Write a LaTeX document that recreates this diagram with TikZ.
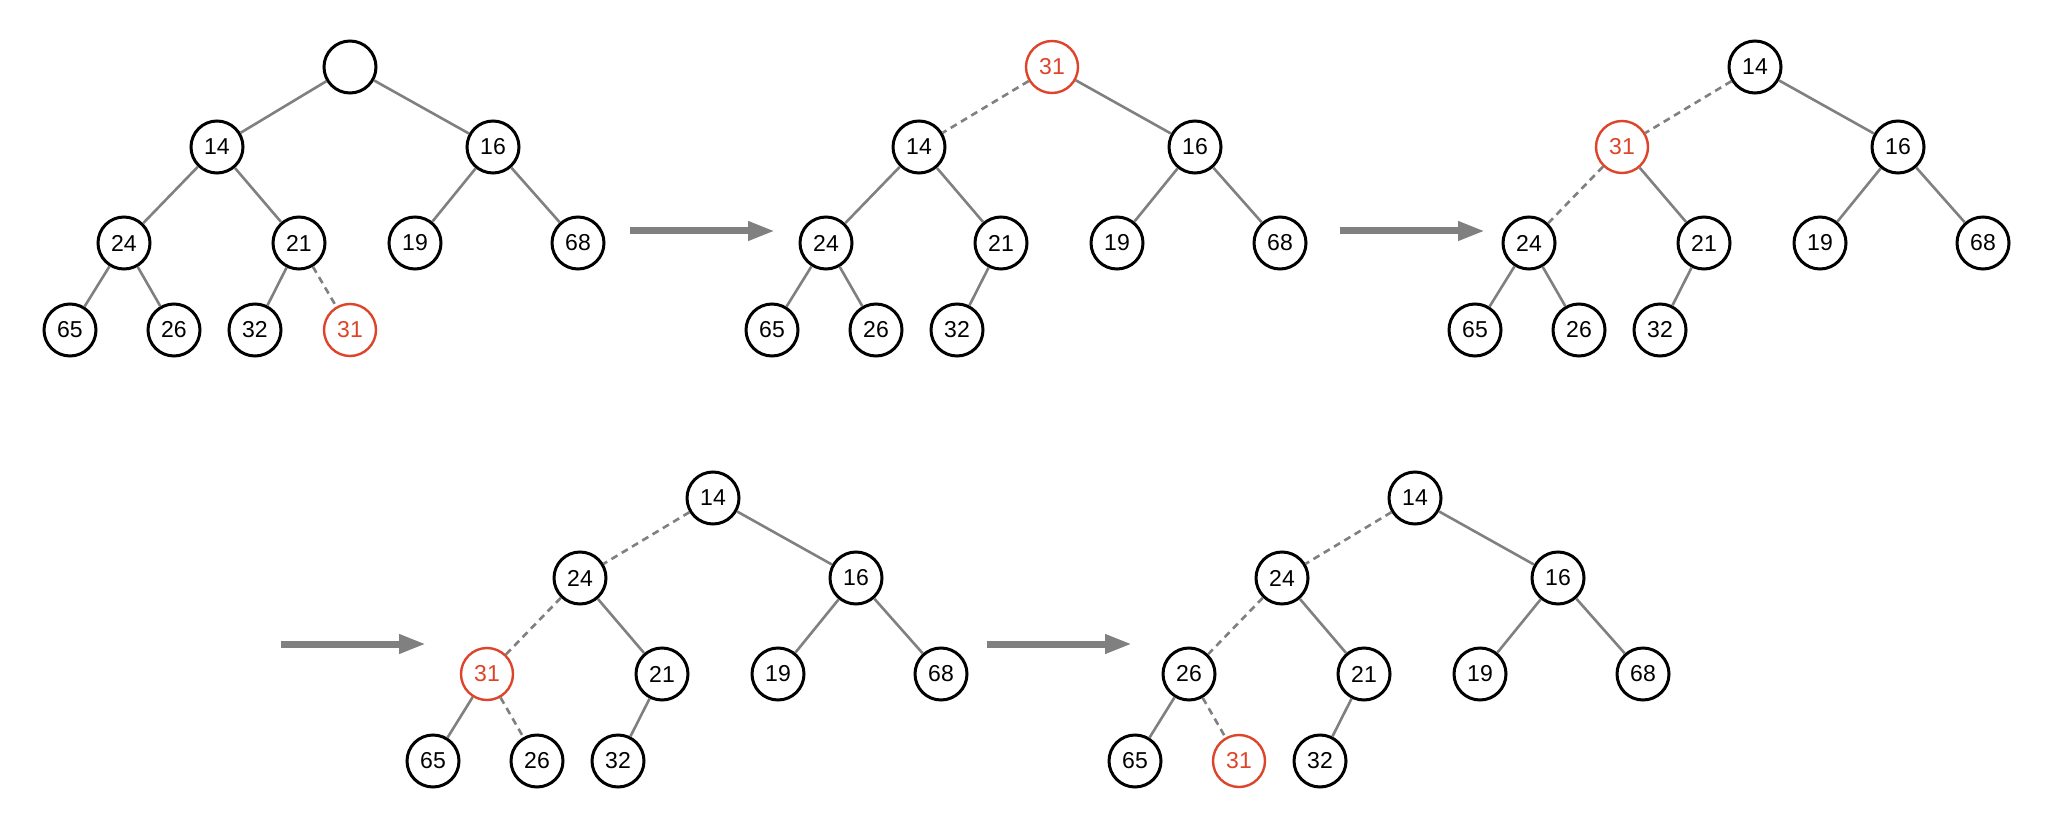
\documentclass[tikz,border=0pt]{standalone}
\usepackage{fontspec}
\setmainfont{Liberation Sans}
\usetikzlibrary{arrows.meta}
\definecolor{swapred}{HTML}{DE4429}
\definecolor{linkgray}{HTML}{808080}
\tikzset{
	heapnode/.style={circle, draw=black, line width=1.5pt, minimum size=26pt, inner sep=0pt, fill=white, font=\fontsize{11.5}{13}\selectfont},
	fixed/.style={},
	moved/.style={draw=swapred, text=swapred, line width=1.2pt},
	link/.style={draw=linkgray, line width=1.3pt},
	moveline/.style={link, dash pattern=on 3.5pt off 2.5pt},
	stepto/.style={draw=linkgray, line width=3.5pt, -{Triangle[length=13.5pt,width=9pt]}}
}
\begin{document}
\begin{tikzpicture}[x=0.5pt, y=-0.5pt]
	\useasboundingbox (0,0) rectangle (2060,834);
	% step arrows
	\foreach \i/\x/\y in {1/630/231, 2/1340/231, 3/281/644, 4/987/644}{
		\coordinate (from\i) at (\x,\y);
		\coordinate (to\i) at (\x+145,\y);
		\draw[stepto] (from\i) -- (to\i);
	}
	
	% heap 1: hole at the root, 31 added at the end
	\begin{scope}
		\foreach \n/\x/\y/\t/\s in {0/350/67//fixed, 1/217/147/14/fixed, 2/493/147/16/fixed, 3/124/243/24/fixed, 4/299/243/21/fixed, 5/415/243/19/fixed, 6/578/243/68/fixed, 7/70/330/65/fixed, 8/174/330/26/fixed, 9/255/330/32/fixed, 10/350/330/31/moved}
		\node[heapnode, \s] (a\n) at (\x,\y) {\t};
		\foreach \p/\q/\s in {0/1/link, 0/2/link, 1/3/link, 1/4/link, 2/5/link, 2/6/link, 3/7/link, 3/8/link, 4/9/link, 4/10/moveline}
		\draw[\s] (a\p) -- (a\q);
	\end{scope}
	
	% heap 2: 31 moved to the root
	\begin{scope}[shift={(702,0)}]
		\foreach \n/\x/\y/\t/\s in {0/350/67/31/moved, 1/217/147/14/fixed, 2/493/147/16/fixed, 3/124/243/24/fixed, 4/299/243/21/fixed, 5/415/243/19/fixed, 6/578/243/68/fixed, 7/70/330/65/fixed, 8/174/330/26/fixed, 9/255/330/32/fixed}
		\node[heapnode, \s] (b\n) at (\x,\y) {\t};
		\foreach \p/\q/\s in {0/1/moveline, 0/2/link, 1/3/link, 1/4/link, 2/5/link, 2/6/link, 3/7/link, 3/8/link, 4/9/link}
		\draw[\s] (b\p) -- (b\q);
	\end{scope}
	
	% heap 3
	\begin{scope}[shift={(1405,0)}]
		\foreach \n/\x/\y/\t/\s in {0/350/67/14/fixed, 1/217/147/31/moved, 2/493/147/16/fixed, 3/124/243/24/fixed, 4/299/243/21/fixed, 5/415/243/19/fixed, 6/578/243/68/fixed, 7/70/330/65/fixed, 8/174/330/26/fixed, 9/255/330/32/fixed}
		\node[heapnode, \s] (c\n) at (\x,\y) {\t};
		\foreach \p/\q/\s in {0/1/moveline, 0/2/link, 1/3/moveline, 1/4/link, 2/5/link, 2/6/link, 3/7/link, 3/8/link, 4/9/link}
		\draw[\s] (c\p) -- (c\q);
	\end{scope}
	
	% heap 4
	\begin{scope}[shift={(363,431)}]
		\foreach \n/\x/\y/\t/\s in {0/350/67/14/fixed, 1/217/147/24/fixed, 2/493/147/16/fixed, 3/124/243/31/moved, 4/299/243/21/fixed, 5/415/243/19/fixed, 6/578/243/68/fixed, 7/70/330/65/fixed, 8/174/330/26/fixed, 9/255/330/32/fixed}
		\node[heapnode, \s] (d\n) at (\x,\y) {\t};
		\foreach \p/\q/\s in {0/1/moveline, 0/2/link, 1/3/moveline, 1/4/link, 2/5/link, 2/6/link, 3/7/link, 3/8/moveline, 4/9/link}
		\draw[\s] (d\p) -- (d\q);
	\end{scope}
	
	% heap 5: 31 ends as a leaf
	\begin{scope}[shift={(1065,431)}]
		\foreach \n/\x/\y/\t/\s in {0/350/67/14/fixed, 1/217/147/24/fixed, 2/493/147/16/fixed, 3/124/243/26/fixed, 4/299/243/21/fixed, 5/415/243/19/fixed, 6/578/243/68/fixed, 7/70/330/65/fixed, 8/174/330/31/moved, 9/255/330/32/fixed}
		\node[heapnode, \s] (e\n) at (\x,\y) {\t};
		\foreach \p/\q/\s in {0/1/moveline, 0/2/link, 1/3/moveline, 1/4/link, 2/5/link, 2/6/link, 3/7/link, 3/8/moveline, 4/9/link}
		\draw[\s] (e\p) -- (e\q);
	\end{scope}
\end{tikzpicture}
\end{document}
